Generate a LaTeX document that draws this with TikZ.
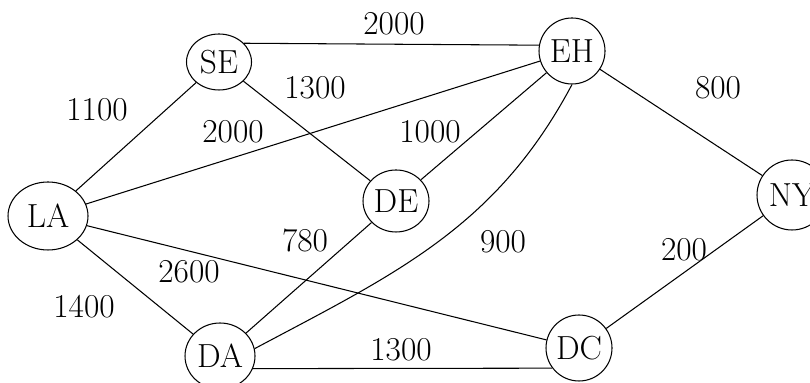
\documentclass[tikz,border=0pt]{standalone}
\usepackage{tikz}
\usetikzlibrary{shapes.geometric, positioning}

\begin{document}
\begin{tikzpicture}[
        city/.style={draw, ellipse, line width=0.6pt, inner sep=0pt, minimum width=1.32cm, minimum height=1.32cm, font=\fontsize{19}{22}\selectfont},
        cost/.style={inner sep=0pt, font=\fontsize{19}{22}\selectfont},
        road/.style={line width=0.6pt}
    ]
    \useasboundingbox (0,0) rectangle (16.2,7.66);

    % --- Cities ---
    \node[city, minimum height=1.12cm, minimum width=1.3cm] (SE) at (4.38, 6.42) {SE};
    \node[city] (EH) at (11.44, 6.64) {EH};
    \node[city, minimum width=1.6cm, minimum height=1.36cm] (LA) at (0.96, 3.34) {LA};
    \node[city, minimum height=1.24cm] (DE) at (7.92, 3.64) {DE};
    \node[city, minimum width=1.4cm, minimum height=1.4cm] (NY) at (15.84, 3.76) {NY};
    \node[city, minimum width=1.4cm] (DA) at (4.40, 0.54) {DA};
    \node[city] (DC) at (11.58, 0.70) {DC};

    % --- Roads ---
    \draw[road] (SE.37) -- (EH.170);
    \draw[road] (LA) -- (SE);
    \draw[road] (SE) -- (DE);
    \draw[road] (LA) -- (EH);
    \draw[road] (DE) -- (EH);
    \draw[road] (EH) -- (NY);
    \draw[road] (EH.south) to[out=-118, in=28] (DA.12);
    \draw[road] (LA) -- (DC);
    \draw[road] (LA) -- (DA);
    \draw[road] (DA) -- (DE);
    \draw[road] (DA.-21) -- (DC.217);
    \draw[road] (DC) -- (NY);

    % --- Costs ---
    \node[cost] (cSEEH) at (7.88, 7.18) {2000};
    \node[cost] (cLASE) at (1.94, 5.46) {1100};
    \node[cost] (cSEDE) at (6.30, 5.90) {1300};
    \node[cost] (cLAEH) at (4.66, 5.02) {2000};
    \node[cost] (cDEEH) at (8.60, 5.02) {1000};
    \node[cost] (cEHNY) at (14.36, 5.90) {800};
    \node[cost] (cDADE) at (6.10, 2.86) {780};
    \node[cost] (cLADC) at (3.78, 2.22) {2600};
    \node[cost] (cLADA) at (1.68, 1.52) {1400};
    \node[cost] (cEHDA) at (10.06, 2.82) {900};
    \node[cost] (cDCNY) at (13.68, 2.66) {200};
    \node[cost] (cDADC) at (8.02, 0.66) {1300};

\end{tikzpicture}
\end{document}
